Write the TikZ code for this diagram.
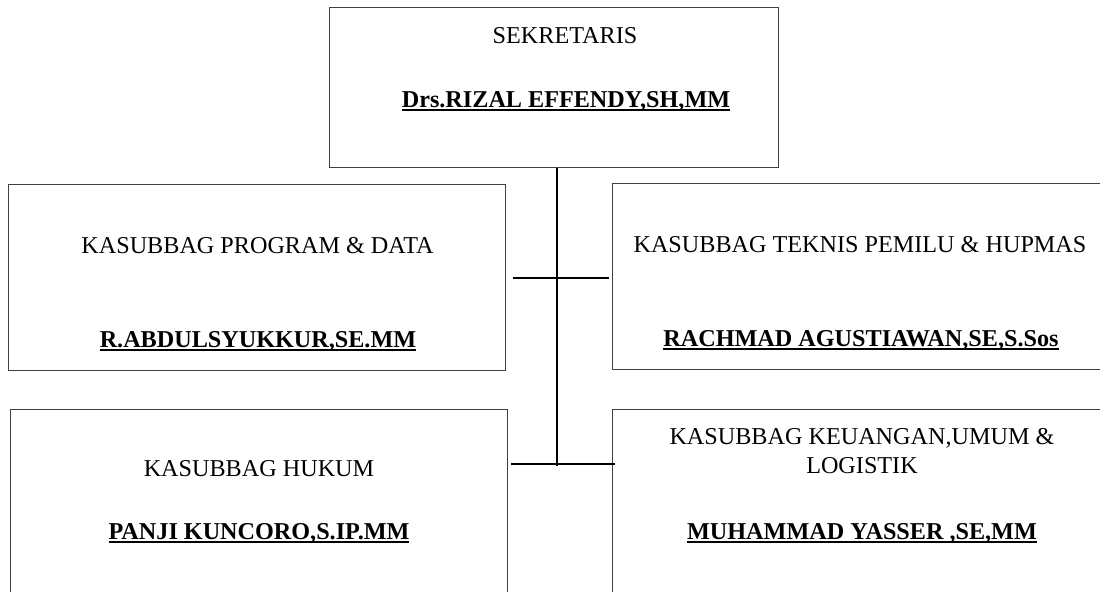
\documentclass[tikz,border=0pt]{standalone}
\usepackage{fontspec}
\setmainfont{Liberation Serif}

% garis bawah tebal untuk nama
\newcommand\ulnama[1]{\setbox0\hbox{#1}\rlap{\rule[-2.7pt]{\wd0}{1.3pt}}\box0}

\tikzset{
  kotak/.style={draw=black!75, line width=0.7pt, inner sep=0pt},
  judul/.style={anchor=base, inner sep=0pt, font=\fontsize{17.2}{20}\selectfont},
  nama/.style={anchor=base, inner sep=0pt, font=\fontsize{17.2}{20}\selectfont\bfseries},
  garis/.style={line width=1.4pt, black}
}

\begin{document}
\begin{tikzpicture}[x=0.025cm, y=-0.025cm]
  \useasboundingbox (0,0) rectangle (1100,592);

  % kotak
  \node[kotak, minimum width=11.2cm, minimum height=3.975cm] (sek) at (554,87.5) {};
  \node[kotak, minimum width=12.4cm, minimum height=4.625cm] (prog) at (257,277.5) {};
  \node[kotak, minimum width=12.375cm, minimum height=4.65cm] (tek) at (860.5,276.3) {};
  \node[kotak, minimum width=12.4cm, minimum height=4.75cm] (huk) at (259,505) {};
  \node[kotak, minimum width=12.375cm, minimum height=4.75cm] (keu) at (860.5,505) {};

  % teks
  \node[judul] (sekj) at (565,43) {SEKRETARIS};
  \node[nama] (sekn) at (566,107) {\ulnama{Drs.RIZAL EFFENDY,SH,MM}};
  \node[judul] (progj) at (257.5,253) {KASUBBAG PROGRAM \& DATA};
  \node[nama] (progn) at (258,347) {\ulnama{R.ABDULSYUKKUR,SE.MM}};
  \node[judul] (tekj) at (860,252) {KASUBBAG TEKNIS PEMILU \& HUPMAS};
  \node[nama] (tekn) at (861,346) {\ulnama{RACHMAD AGUSTIAWAN,SE,S.Sos}};
  \node[judul] (hukj) at (259,476) {KASUBBAG HUKUM};
  \node[nama] (hukn) at (259,539) {\ulnama{PANJI KUNCORO,S.IP.MM}};
  \node[judul] (keuj) at (862,444) {KASUBBAG KEUANGAN,UMUM \&};
  \node[judul] (keuj2) at (862,473) {LOGISTIK};
  \node[nama] (keun) at (862,539) {\ulnama{MUHAMMAD YASSER ,SE,MM}};

  % garis
  \coordinate (v1) at (557,466);
  \coordinate (a1) at (513,277.7);
  \coordinate (a2) at (609,277.7);
  \coordinate (b1) at (511,464.3);
  \coordinate (b2) at (615,464.3);
  \draw[garis] (sek.south -| v1) -- (v1);
  \draw[garis] (a1) -- (a2);
  \draw[garis] (b1) -- (b2);
\end{tikzpicture}
\end{document}
